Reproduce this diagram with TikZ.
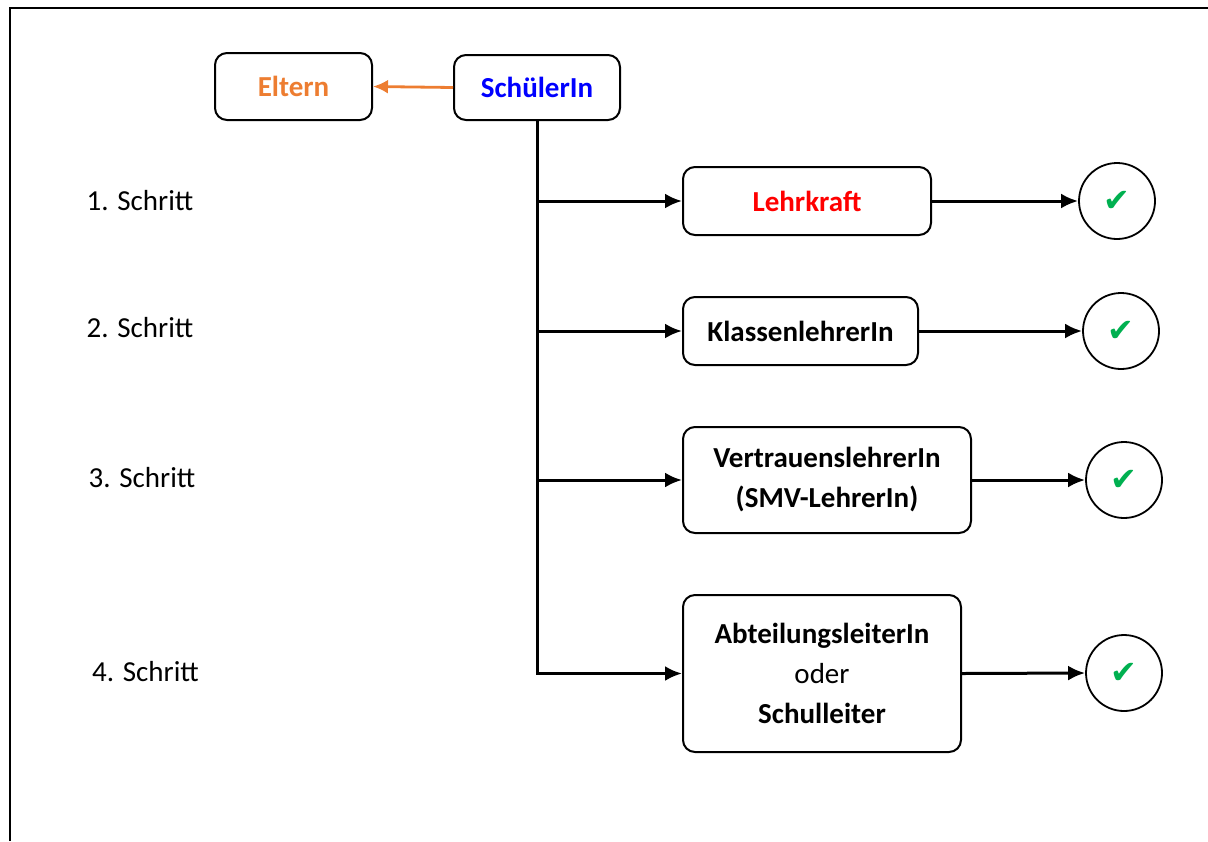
\documentclass[tikz,border=0pt]{standalone}
\usepackage{fontspec}
\setmainfont{Carlito}
\newfontfamily\symfont{DejaVu Sans}
\usetikzlibrary{arrows.meta}
\definecolor{eorange}{RGB}{237,125,49}
\definecolor{cgreen}{RGB}{0,176,80}
\tikzset{
  box/.style={draw, line width=1pt, rounded corners=6pt, align=center, inner sep=0pt,
    font=\fontsize{14.5}{20}\selectfont\bfseries},
  conn/.style={line width=1.5pt, -{Latex[length=8.5pt,width=7.5pt]}},
  chk/.style={draw, circle, line width=0.9pt, minimum size=38pt, inner sep=0pt,
    text=cgreen, font=\symfont\fontsize{16}{16}\selectfont},
  lbl/.style={font=\fontsize{14.5}{17}\selectfont, inner sep=0pt},
  frame/.style={line width=1pt}
}
\begin{document}
\begin{tikzpicture}[x=0.5pt,y=-0.5pt]
\useasboundingbox (0,0) rectangle (1208,841);
\draw[frame] (10,841) -- (10,7.5) -- (1208,7.5);

\node[box, minimum width=78.5pt, minimum height=33.5pt, text=eorange] (eltern) at (293.5,86.5) {Eltern};
\node[box, minimum width=83pt, minimum height=32.5pt, text=blue] (schueler) at (537,87.5) {SchülerIn};
\node[box, minimum width=124pt, minimum height=34pt, text=red] (lehrkraft) at (807,201) {Lehrkraft};
\node[box, minimum width=117.5pt, minimum height=34pt] (klassen) at (800.5,331) {KlassenlehrerIn};
\node[box, minimum width=144pt, minimum height=53pt] (vertrauen) at (827,480) {VertrauenslehrerIn\\(SMV-LehrerIn)};
\node[box, minimum width=139pt, minimum height=78.5pt] (abteilung) at (822,673.5) {AbteilungsleiterIn\\{\mdseries oder}\\Schulleiter};

\node[chk] (c1) at (1117,201) {✔};
\node[chk] (c2) at (1121,331) {✔};
\node[chk] (c3) at (1124,480) {✔};
\node[chk] (c4) at (1124,673) {✔};

\node[lbl] (s1) at (140,201) {1. Schritt};
\node[lbl] (s2) at (140,328) {2. Schritt};
\node[lbl] (s3) at (142,478) {3. Schritt};
\node[lbl] (s4) at (145.5,672) {4. Schritt};

\draw[conn, eorange, line width=1.4pt, -{Latex[length=7.5pt,width=7pt]}] (schueler.west) -- (eltern.east);
\draw[conn] (schueler.south) |- (abteilung.west);
\draw[conn] (schueler.south |- lehrkraft.west) -- (lehrkraft.west);
\draw[conn] (schueler.south |- klassen.west) -- (klassen.west);
\draw[conn] (schueler.south |- vertrauen.west) -- (vertrauen.west);

\draw[conn] (lehrkraft.east) -- (c1.west);
\draw[conn] (klassen.east) -- (c2.west);
\draw[conn] (vertrauen.east) -- (c3.west);
\draw[conn] (abteilung.east) -- (c4.west);
\end{tikzpicture}
\end{document}
